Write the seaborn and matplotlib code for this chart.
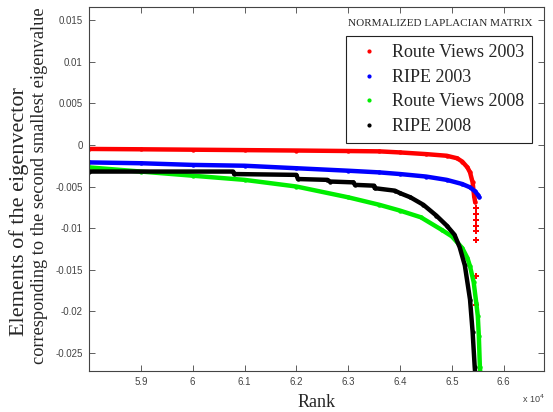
import pandas as pd
import matplotlib
matplotlib.use('Agg')
import matplotlib.pyplot as plt
from matplotlib.lines import Line2D
import seaborn as sns

# values (rank, eigenvector element)
rv03_rank = [58000, 59000, 60000, 61000, 62000, 63000, 63600, 64000, 64500, 64900,
             65100, 65200, 65300, 65350, 65400, 65430, 65450]
rv03_val = [-0.00048, -0.00052, -0.00057, -0.00062, -0.00067, -0.00073, -0.00077, -0.0009,
            -0.0011, -0.0013, -0.0016, -0.0020, -0.0027, -0.0033, -0.0045, -0.0062, -0.0069]
rv03_tail_rank = [65460, 65460, 65460, 65460, 65460, 65460, 65460, 65460]
rv03_tail_val = [-0.0076, -0.0083, -0.0090, -0.0097, -0.0104, -0.0114, -0.0158, -0.0193]

ripe03_rank = [58000, 59000, 60000, 61000, 62000, 63000, 63600, 64000, 64500, 64900,
               65200, 65350, 65450, 65500, 65530]
ripe03_val = [-0.0021, -0.0022, -0.0024, -0.0025, -0.0028, -0.0031, -0.0033, -0.0035,
              -0.0038, -0.0042, -0.0047, -0.0051, -0.0056, -0.0060, -0.0063]

rv08_rank = [58000, 59000, 60000, 61000, 62000, 63000, 63600, 64000, 64400, 64800,
             65000, 65200, 65300, 65350, 65420, 65470, 65500, 65520, 65540, 65550]
rv08_val = [-0.0027, -0.0032, -0.0037, -0.0042, -0.0050, -0.0063, -0.0072, -0.0079,
            -0.0087, -0.0102, -0.0110, -0.0124, -0.0136, -0.0146, -0.0165, -0.0190,
            -0.0206, -0.0230, -0.0267, -0.0275]

ripe08_rank = [58000, 60780, 60800, 62000, 62030, 62600, 62650, 63100, 63130, 63500,
               63510, 63900, 64000, 64200, 64450, 64700, 64900, 65050, 65150, 65250,
               65350, 65400, 65440, 65450]
ripe08_val = [-0.0032, -0.0032, -0.0035, -0.0036, -0.0041, -0.0042, -0.0044, -0.0045,
              -0.0048, -0.0049, -0.0052, -0.0055, -0.0058, -0.0063, -0.0072, -0.0085,
              -0.0097, -0.0108, -0.0123, -0.0145, -0.0186, -0.0225, -0.0267, -0.0275]

names = ['Route Views 2003', 'RIPE 2003', 'Route Views 2008', 'RIPE 2008']
colors = ['#ff0000', '#0000ff', '#00ee00', '#000000']

xticks = [59000, 60000, 61000, 62000, 63000, 64000, 65000, 66000]
xlabels = ['5.9', '6', '6.1', '6.2', '6.3', '6.4', '6.5', '6.6']
yticks = [0.015, 0.01, 0.005, 0, -0.005, -0.01, -0.015, -0.02, -0.025]
ylabels = ['0.015', '0.01', '0.005', '0', '-0.005', '-0.01', '-0.015', '-0.02', '-0.025']

sns.set_style('white')
plt.rcParams['font.family'] = ['Liberation Sans', 'DejaVu Sans']

fig = plt.figure(figsize=(5.53, 4.12), dpi=100)
ax = fig.add_axes([0.161, 0.0995, 0.823, 0.8835])

series = [(rv03_rank, rv03_val), (ripe03_rank, ripe03_val),
          (rv08_rank, rv08_val), (ripe08_rank, ripe08_val)]
for (r, v), c in zip(series, colors):
    df = pd.DataFrame({'rank': r, 'val': v})
    sns.lineplot(data=df, x='rank', y='val', color=c, linewidth=3.2,
                 estimator=None, sort=False, ax=ax)
    sns.scatterplot(data=df, x='rank', y='val', color=c, s=10, linewidth=0, ax=ax)

tail = pd.DataFrame({'rank': rv03_tail_rank, 'val': rv03_tail_val})
sns.scatterplot(data=tail, x='rank', y='val', color=colors[0], marker='P', s=14,
                linewidth=0, ax=ax)

ax.set_xlim(58000, 66780)
ax.set_ylim(-0.0272, 0.0166)
ax.set_xticks(xticks)
ax.set_xticklabels(xlabels)
ax.set_yticks(yticks)
ax.set_yticklabels(ylabels)
ax.tick_params(direction='in', length=4, width=0.6, labelsize=7, colors='#444444',
               top=True, right=True, bottom=True, left=True, pad=4.5)
for s in ax.spines.values():
    s.set_color('#444444')
    s.set_linewidth(0.8)

serif = ['Liberation Serif', 'DejaVu Serif']
ax.set_xlabel('Rank', fontsize=13, family=serif, labelpad=5)
ax.set_ylabel('')
fig.text(19 / 553, 1 - 212 / 412, 'Elements of the eigenvector', rotation=90,
         ha='center', va='center', fontsize=16, family=serif)
fig.text(40 / 553, 1 - 186 / 412, 'corresponding to the second smallest eigenvalue',
         rotation=90, ha='center', va='center', fontsize=13.2, family=serif)
fig.text(533 / 553, 0.018, r'x 10$^4$', fontsize=6.5, ha='center', va='bottom', color='#444444')

ax.text(0.974, 0.955, 'NORMALIZED LAPLACIAN MATRIX', transform=ax.transAxes,
        ha='right', va='center', fontsize=8, family=serif)

handles = [Line2D([], [], marker='.', linestyle='none', color=c, markersize=4) for c in colors]
leg = ax.legend(handles, names, loc='upper right', bbox_to_anchor=(0.974, 0.920),
                borderaxespad=0, frameon=True, fancybox=False, framealpha=1,
                edgecolor='#222222', prop={'family': serif, 'size': 13},
                handletextpad=0.4, labelspacing=0.42, borderpad=0.45, handlelength=1.7)
leg.get_frame().set_linewidth(0.8)

fig.savefig('out.png', dpi=100)
